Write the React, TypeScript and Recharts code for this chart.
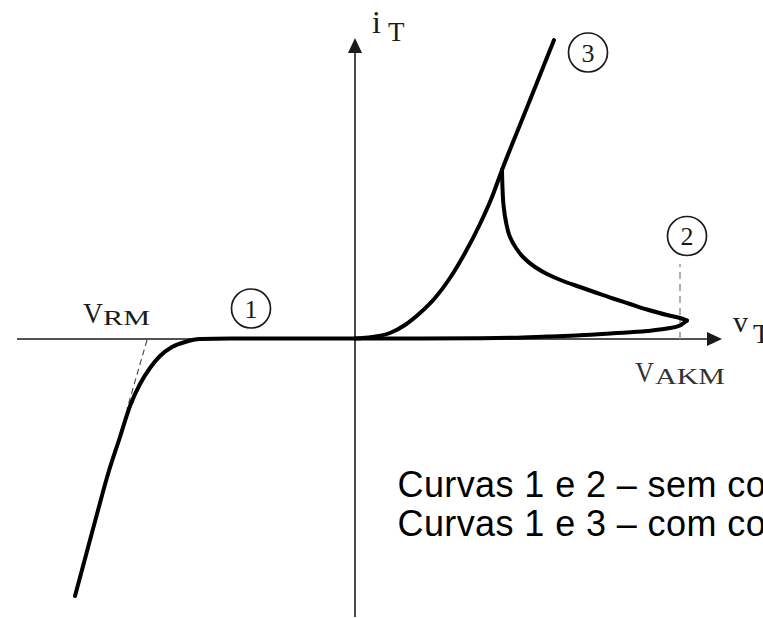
import React from 'react';
import { LineChart, Line, XAxis, YAxis, ReferenceLine, ReferenceDot } from 'recharts';

// Schematic units: vT (horizontal) and iT (vertical), origin at the axes crossing.
// Curve 1 (reverse blocking) continuing into the forward blocking part of curve 2, up to VAKM.
const curve1AndBlocking = [
  { x: -280, y: -257 },
  { x: -269, y: -216 },
  { x: -258, y: -175 },
  { x: -247, y: -135 },
  { x: -235, y: -98 },
  { x: -225, y: -67 },
  { x: -215, y: -45 },
  { x: -205, y: -29 },
  { x: -195, y: -17 },
  { x: -183, y: -8 },
  { x: -170, y: -3 },
  { x: -155, y: 0 },
  { x: -125, y: 0.5 },
  { x: -55, y: 0.5 },
  { x: 0, y: 0.5 },
  { x: 65, y: 0.5 },
  { x: 125, y: 0.8 },
  { x: 158, y: 1.3 },
  { x: 192, y: 2.5 },
  { x: 225, y: 3.7 },
  { x: 258, y: 5.7 },
  { x: 292, y: 8 },
  { x: 312, y: 10.5 },
  { x: 325, y: 13.5 },
  { x: 332, y: 18.5 },
];

// Curve 2: negative-resistance branch from VAKM back to the on-state curve.
const curve2Breakover = [
  { x: 332, y: 18.5 },
  { x: 325, y: 21 },
  { x: 312, y: 24 },
  { x: 292, y: 29.5 },
  { x: 275, y: 35 },
  { x: 258, y: 40.5 },
  { x: 242, y: 46 },
  { x: 225, y: 52 },
  { x: 208, y: 58 },
  { x: 192, y: 65 },
  { x: 180, y: 72 },
  { x: 168, y: 82 },
  { x: 161, y: 91 },
  { x: 155, y: 102 },
  { x: 151, y: 117 },
  { x: 148.5, y: 134 },
  { x: 147.5, y: 151 },
  { x: 147, y: 169 },
];

// Curve 3: with gate current, on-state characteristic.
const curve3Gated = [
  { x: 0, y: 0.5 },
  { x: 17, y: 2 },
  { x: 35, y: 6 },
  { x: 50, y: 14 },
  { x: 65, y: 26 },
  { x: 80, y: 41 },
  { x: 95, y: 61 },
  { x: 110, y: 86 },
  { x: 125, y: 115 },
  { x: 137, y: 142 },
  { x: 147, y: 169 },
  { x: 173, y: 234 },
  { x: 199, y: 299 },
];

// Guide lines
const vrmGuide = [{ x: -208, y: -1 }, { x: -228, y: -70 }];
const vakmGuide = [{ x: 325, y: 0 }, { x: 325, y: 75 }];

const xDomain = [-355, 408];
const yDomain = [-279, 339];

// Caption lines as visible in the reference (cut by the right edge)
const legendLines = ['Curvas 1 e 2 – sem co', 'Curvas 1 e 3 – com co'];

const SERIF = "'Liberation Serif', 'Times New Roman', serif";
const SANS = "'Liberation Sans', Arial, sans-serif";
const INK = '#1a1a1a';

const ArrowRight = (p: any) => (
  <path d={`M${p.cx},${p.cy} L${p.cx - 15},${p.cy - 7} L${p.cx - 15},${p.cy + 7} Z`} fill={INK} />
);
const ArrowUp = (p: any) => (
  <path d={`M${p.cx},${p.cy} L${p.cx - 7},${p.cy + 15} L${p.cx + 7},${p.cy + 15} Z`} fill={INK} />
);

const circled = (n: string) => (p: any) => (
  <g>
    <circle cx={p.cx} cy={p.cy} r={19.5} fill="none" stroke={INK} strokeWidth={1.7} />
    <text x={p.cx} y={p.cy + 9} textAnchor="middle" fontFamily={SERIF} fontSize={26} fill={INK}>
      {n}
    </text>
  </g>
);

const LabelVRM = (p: any) => (
  <g fill={INK} fontFamily={SERIF}>
    <text x={p.cx} y={p.cy} fontSize={30} textLength={20} lengthAdjust="spacingAndGlyphs">V</text>
    <text x={p.cx + 20} y={p.cy + 2} fontSize={21} textLength={47} lengthAdjust="spacingAndGlyphs">RM</text>
  </g>
);
const LabelVAKM = (p: any) => (
  <g fill="#333" fontFamily={SERIF}>
    <text x={p.cx} y={p.cy} fontSize={29} textLength={19} lengthAdjust="spacingAndGlyphs">V</text>
    <text x={p.cx + 20} y={p.cy + 2} fontSize={23} textLength={70} lengthAdjust="spacingAndGlyphs">AKM</text>
  </g>
);
const LabelIT = (p: any) => (
  <g fill={INK} fontFamily={SERIF}>
    <text x={p.cx} y={p.cy} fontSize={32}>i</text>
    <text x={p.cx + 16} y={p.cy + 8} fontSize={27}>T</text>
  </g>
);
const LabelVT = (p: any) => (
  <g fill={INK} fontFamily={SERIF}>
    <text x={p.cx} y={p.cy} fontSize={30}>v</text>
    <text x={p.cx + 20} y={p.cy + 11} fontSize={28}>T</text>
  </g>
);
const Legend = (p: any) => (
  <g fill="#000" fontFamily={SANS} fontSize={36}>
    {legendLines.map((t, i) => (
      <text key={i} x={p.cx} y={p.cy + i * 39} letterSpacing={0.4}>{t}</text>
    ))}
  </g>
);

export default function App() {
  return (
    <div style={{ position: 'absolute', left: 0, top: 0, width: 763, height: 618, background: '#fff', overflow: 'hidden' }}>
      <LineChart width={763} height={618} margin={{ top: 0, right: 0, bottom: 0, left: 0 }}>
        <XAxis type="number" dataKey="x" domain={xDomain} allowDataOverflow hide />
        <YAxis type="number" dataKey="y" domain={yDomain} allowDataOverflow hide />

        <ReferenceLine segment={[{ x: -338, y: 0 }, { x: 355, y: 0 }]} stroke={INK} strokeWidth={1.6} />
        <ReferenceLine segment={[{ x: 0, y: -278 }, { x: 0, y: 289 }]} stroke={INK} strokeWidth={1.6} />
        <ReferenceLine segment={vrmGuide} stroke="#444" strokeWidth={1.1} strokeDasharray="6 4" />
        <ReferenceLine segment={vakmGuide} stroke="#999" strokeWidth={1.6} strokeDasharray="7 5" />

        <Line data={curve1AndBlocking} dataKey="y" type="monotoneX" stroke="#000" strokeWidth={4}
          strokeLinecap="round" strokeLinejoin="round" dot={false} activeDot={false} isAnimationActive={false} />
        <Line data={curve2Breakover} dataKey="y" type="monotoneY" stroke="#000" strokeWidth={4}
          strokeLinecap="round" strokeLinejoin="round" dot={false} activeDot={false} isAnimationActive={false} />
        <Line data={curve3Gated} dataKey="y" type="monotoneX" stroke="#000" strokeWidth={4}
          strokeLinecap="round" strokeLinejoin="round" dot={false} activeDot={false} isAnimationActive={false} />

        <ReferenceDot x={367} y={0} shape={ArrowRight} />
        <ReferenceDot x={0} y={301} shape={ArrowUp} />

        <ReferenceDot x={-104} y={30.5} shape={circled('1')} />
        <ReferenceDot x={332} y={103} shape={circled('2')} />
        <ReferenceDot x={233} y={286.5} shape={circled('3')} />

        <ReferenceDot x={-272} y={16} shape={LabelVRM} />
        <ReferenceDot x={280} y={-43} shape={LabelVAKM} />
        <ReferenceDot x={17} y={306} shape={LabelIT} />
        <ReferenceDot x={378} y={7.5} shape={LabelVT} />
        <ReferenceDot x={42.5} y={-158} shape={Legend} />
      </LineChart>
    </div>
  );
}
